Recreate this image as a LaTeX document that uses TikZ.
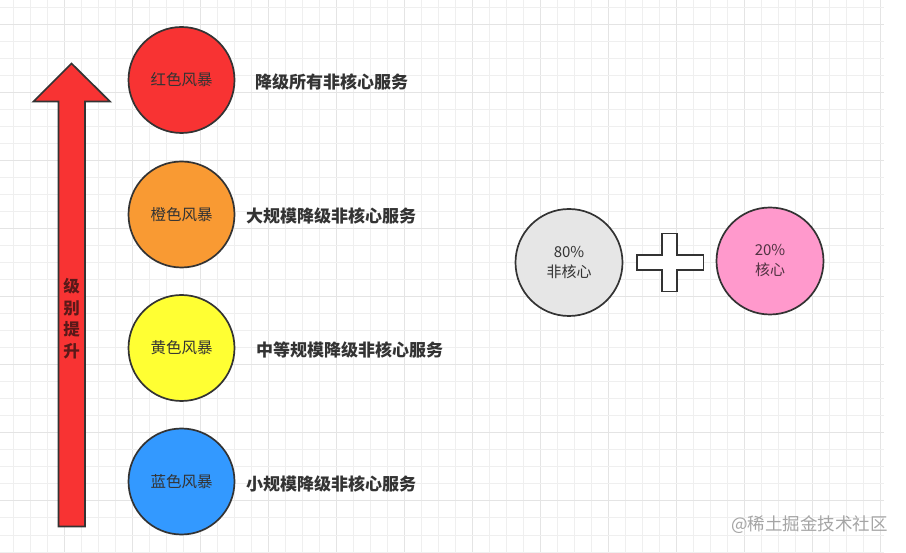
\documentclass[tikz,border=0pt]{standalone}
\usepackage{fontspec}
\setmainfont{Noto Sans CJK SC}
\definecolor{gridminor}{HTML}{EFEFEF}
\definecolor{gridmajor}{HTML}{E4E4E4}
\definecolor{outl}{HTML}{333333}
\definecolor{cred}{HTML}{F83333}
\definecolor{corange}{HTML}{F99A33}
\definecolor{cyellow}{HTML}{FFFF33}
\definecolor{cblue}{HTML}{3399FF}
\definecolor{cgray}{HTML}{E6E6E6}
\definecolor{cpink}{HTML}{FF99CC}
\definecolor{txt}{HTML}{333333}
\tikzset{
  storm/.style={circle, draw=outl, line width=1.7pt, minimum size=106pt, inner sep=0pt,
    font=\fontsize{15.5}{17}\selectfont, text=txt},
  action/.style={font=\fontsize{17}{19}\selectfont\bfseries, text=txt, inner sep=0pt},
  share/.style={circle, draw=outl, line width=1.7pt, minimum size=107pt, inner sep=0pt,
    font=\fontsize{15}{20}\selectfont, text=txt, align=center},
}
\begin{document}
\begin{tikzpicture}[x=1pt,y=-1pt]
\useasboundingbox (0,0) rectangle (906,553);
\fill[white] (0,0) rectangle (906,553);
% grid
\foreach \k in {0,...,51} {
  \pgfmathtruncatemacro{\m}{mod(\k,4)}
  \ifnum\m=3
    \draw[gridmajor, line width=1pt] ({13+17*\k},0) -- ({13+17*\k},553);
  \else
    \draw[gridminor, line width=1pt] ({13+17*\k},0) -- ({13+17*\k},553);
  \fi
}
\foreach \k in {0,...,32} {
  \pgfmathtruncatemacro{\m}{mod(\k,4)}
  \ifnum\m=1
    \draw[gridmajor, line width=1pt] (0,{8+17*\k}) -- (884,{8+17*\k});
  \else
    \draw[gridminor, line width=1pt] (0,{8+17*\k}) -- (884,{8+17*\k});
  \fi
}
% big arrow
\draw[fill=cred, draw=outl, line width=1.7pt, line join=miter]
  (71.5,63.5) -- (110,101.5) -- (85,101.5) -- (85,526.5) -- (58.5,526.5) -- (58.5,101.5) -- (33.5,101.5) -- cycle;
\node[font=\fontsize{16.5}{21.5}\selectfont\bfseries, text={rgb,255:red,90;green,25;blue,25}, align=center, inner sep=0pt] (lvl) at (71.5,318.5) {级\\别\\提\\升};
% storms
\node[storm, fill=cred] (red) at (181.5,80) {红色风暴};
\node[storm, fill=corange] (orange) at (181.5,214.5) {橙色风暴};
\node[storm, fill=cyellow] (yellow) at (181.5,348) {黄色风暴};
\node[storm, fill=cblue] (blue) at (181.5,481.5) {蓝色风暴};
% actions
\node[action, anchor=west] (a1) at (255,82) {降级所有非核心服务};
\node[action, anchor=west] (a2) at (246,216) {大规模降级非核心服务};
\node[action, anchor=west] (a3) at (256,349.5) {中等规模降级非核心服务};
\node[action, anchor=west] (a4) at (246,483.5) {小规模降级非核心服务};
% right group
\node[share, fill=cgray] (noncore) at (569,262.5) {80\%\\非核心};
\node[share, fill=cpink, text={rgb,255:red,80;green,50;blue,65}] (core) at (770,261) {20\%\\核心};
\draw[fill=white, draw=outl, line width=1.7pt]
  (662,233.5) -- (677,233.5) -- (677,255) -- (703.5,255) -- (703.5,270) -- (677,270) -- (677,291.5)
  -- (662,291.5) -- (662,270) -- (637,270) -- (637,255) -- (662,255) -- cycle;
% watermark
\node[font=\fontsize{17.5}{20}\selectfont, text={rgb,255:red,165;green,165;blue,165}, anchor=east, inner sep=0pt] (wm) at (888,525) {@稀土掘金技术社区};
\end{tikzpicture}
\end{document}
